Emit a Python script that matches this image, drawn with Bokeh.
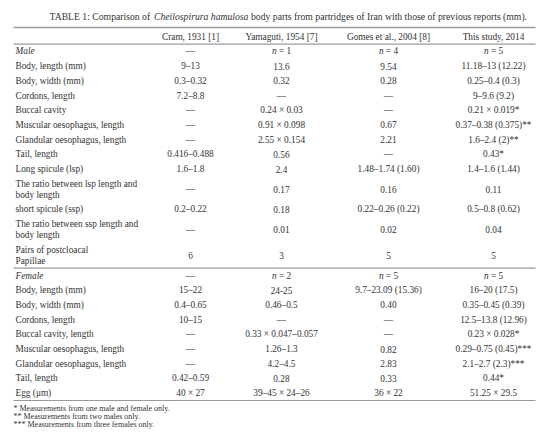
from bokeh.plotting import figure
from bokeh.models import ColumnDataSource, Range1d
from bokeh.embed import file_html
from bokeh.resources import INLINE
from bokeh.core.properties import value

# ---------------- data ----------------
title_parts = ["TABLE 1: Comparison of", "Cheilospirura hamulosa",
               "body parts from partridges of Iran with those of previous reports (mm)."]
columns = ["Cram, 1931 [1]", "Yamaguti, 1954 [7]", "Gomes et al., 2004 [8]", "This study, 2014"]

row_labels = [
    "Male", "Body, length (mm)", "Body, width (mm)", "Cordons, length", "Buccal cavity",
    "Muscular oesophagus, length", "Glandular oesophagus, length", "Tail, length",
    "Long spicule (lsp)", "The ratio between lsp length and\nbody length",
    "short spicule (ssp)", "The ratio between ssp length and\nbody length",
    "Pairs of postcloacal\nPapillae",
    "Female", "Body, length (mm)", "Body, width (mm)", "Cordons, length",
    "Buccal cavity, length", "Muscular oesophagus, length", "Glandular oesophagus, length",
    "Tail, length", "Egg (μm)",
]
cram = ["—", "9–13", "0.3–0.32", "7.2–8.8", "—", "—", "—", "0.416–0.488", "1.6–1.8", "—",
        "0.2–0.22", "—", "6",
        "—", "15–22", "0.4–0.65", "10–15", "—", "—", "—", "0.42–0.59", "40 × 27"]
yamaguti = ["n = 1", "13.6", "0.32", "—", "0.24 × 0.03", "0.91 × 0.098", "2.55 × 0.154", "0.56",
            "2.4", "0.17", "0.18", "0.01", "3",
            "n = 2", "24-25", "0.46–0.5", "—", "0.33 × 0.047–0.057", "1.26–1.3", "4.2–4.5",
            "0.28", "39–45 × 24–26"]
gomes = ["n = 4", "9.54", "0.28", "—", "—", "0.67", "2.21", "—", "1.48–1.74 (1.60)", "0.16",
         "0.22–0.26 (0.22)", "0.02", "5",
         "n = 5", "9.7–23.09 (15.36)", "0.40", "—", "—", "0.82", "2.83", "0.33", "36 × 22"]
this_study = ["n = 5", "11.18–13 (12.22)", "0.25–0.4 (0.3)", "9–9.6 (9.2)", "0.21 × 0.019*",
              "0.37–0.38 (0.375)**", "1.6–2.4 (2)**", "0.43*", "1.4–1.6 (1.44)", "0.11",
              "0.5–0.8 (0.62)", "0.04", "5",
              "n = 5", "16–20 (17.5)", "0.35–0.45 (0.39)", "12.5–13.8 (12.96)", "0.23 × 0.028*",
              "0.29–0.75 (0.45)***", "2.1–2.7 (2.3)***", "0.44*", "51.25 × 29.5"]
section_labels = ["Male", "Female"]
footnotes = ["* Measurements from one male and female only.",
             "** Measurements from two males only.",
             "*** Measurements from three females only."]

# ---------------- layout ----------------
FONT = value("Liberation Serif")
COLOR = "#333333"
RULE = "#9a9a9a"
FS = "9.3px"
PITCH, LINE = 14.7, 11.0
X_LABEL = 15
X_COLS = [190, 281, 388, 493]
X0, X1 = 13, 535

p = figure(width=549, height=441, output_backend="svg", toolbar_location=None,
           x_range=Range1d(0, 549), y_range=Range1d(441, 0), min_border=0)
p.axis.visible = False
p.grid.visible = False
p.outline_line_color = None
p.background_fill_color = "white"
p.border_fill_color = "white"

# title (three pieces, middle one italic)
TFS = "9.7px"
p.text(x=[49], y=[16], text=[title_parts[0]], text_font=FONT, text_font_size=TFS,
       text_color=COLOR, text_baseline="middle", text_align="left")
p.text(x=[153.5], y=[16], text=[title_parts[1]], text_font=FONT, text_font_size=TFS,
       text_font_style="italic", text_color=COLOR, text_baseline="middle", text_align="left")
p.text(x=[250.5], y=[16], text=[title_parts[2]], text_font=FONT, text_font_size=TFS,
       text_color=COLOR, text_baseline="middle", text_align="left")

# header
p.text(x=X_COLS, y=[36] * 4, text=columns, text_font=FONT, text_font_size=FS,
       text_color=COLOR, text_baseline="middle", text_align="center")

# rows
cursor = 43.6
centers, lab_x, lab_y, lab_t, lab_style = [], [], [], [], []
sep_y = []
for lab in row_labels:
    if lab == "Female":
        sep_y.append(cursor)
    lines = lab.split("\n")
    h = PITCH + (len(lines) - 1) * LINE
    c = cursor + h / 2
    centers.append(c)
    first = c - (len(lines) - 1) * LINE / 2
    for k, ln in enumerate(lines):
        lab_x.append(X_LABEL)
        lab_y.append(first + k * LINE)
        lab_t.append(ln)
        lab_style.append("italic" if lab in section_labels else "normal")
    cursor += h
bottom = cursor

lab_src = ColumnDataSource(dict(x=lab_x, y=lab_y, t=lab_t, s=lab_style))
p.text(x="x", y="y", text="t", text_font_style="s", source=lab_src, text_font=FONT,
       text_font_size=FS, text_color=COLOR, text_baseline="middle", text_align="left")

# values; "n = k" cells get an italic n
nx, ny, rx, ry, rt = [], [], [], [], []
for xc, vals in zip(X_COLS, [cram, yamaguti, gomes, this_study]):
    plain_x, plain_y, plain_t = [], [], []
    for v, yc in zip(vals, centers):
        if v.startswith("n = "):
            nx.append(xc - 9.6)
            ny.append(yc)
            rx.append(xc - 2.6)
            ry.append(yc)
            rt.append(v[2:])
        else:
            plain_x.append(xc)
            plain_y.append(yc)
            plain_t.append(v)
    src = ColumnDataSource(dict(x=plain_x, y=plain_y, t=plain_t))
    p.text(x="x", y="y", text="t", source=src, text_font=FONT, text_font_size=FS,
           text_color=COLOR, text_baseline="middle", text_align="center")
p.text(x=nx, y=ny, text=["n"] * len(nx), text_font=FONT, text_font_size=FS,
       text_font_style="italic", text_color=COLOR, text_baseline="middle", text_align="left")
p.text(x=rx, y=ry, text=rt, text_font=FONT, text_font_size=FS,
       text_color=COLOR, text_baseline="middle", text_align="left")

# rules
p.segment(x0=[X0], y0=[27], x1=[X1], y1=[27], line_color=RULE, line_width=1.5)
p.segment(x0=[X0] * 3, y0=[43.6] + sep_y + [bottom], x1=[X1] * 3,
          y1=[43.6] + sep_y + [bottom], line_color=RULE, line_width=1.2)

# footnotes
fy = [bottom + 8 + i * 8.2 for i in range(len(footnotes))]
p.text(x=[X0] * len(footnotes), y=fy, text=footnotes, text_font=FONT, text_font_size="8px",
       text_color=COLOR, text_baseline="middle", text_align="left")

open("out.html", "w").write(file_html(p, INLINE))
